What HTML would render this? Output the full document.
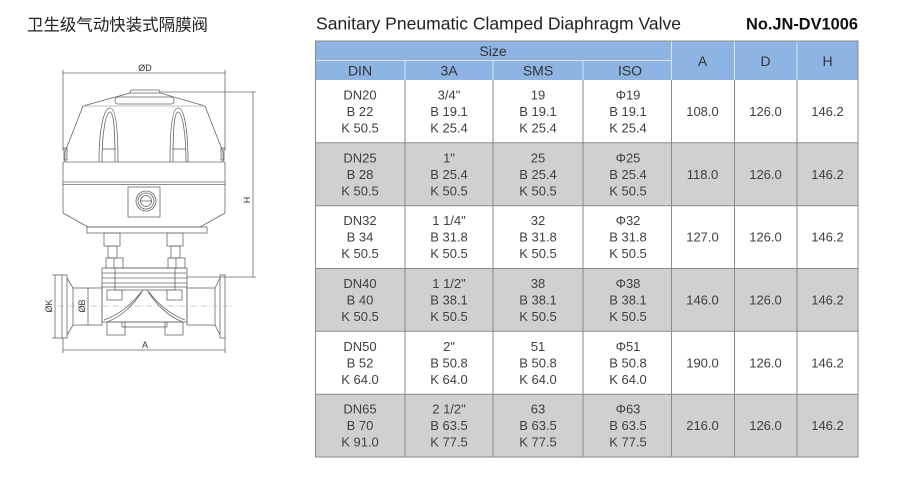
<!DOCTYPE html>
<html><head><meta charset="utf-8"><style>
html,body{margin:0;padding:0;background:#fff;}
svg{display:block;}
text{font-family:"Liberation Sans","Noto Sans CJK SC",sans-serif;}
</style></head><body>
<svg width="900" height="497" viewBox="0 0 900 497" xmlns="http://www.w3.org/2000/svg">
<rect width="900" height="497" fill="#fff"/>
<!-- Titles -->
<text x="27" y="30.5" font-size="16.5" fill="#222" textLength="181" lengthAdjust="spacingAndGlyphs">卫生级气动快装式隔膜阀</text>
<text x="316" y="29.3" font-size="17.5" fill="#222" textLength="365" lengthAdjust="spacingAndGlyphs">Sanitary Pneumatic Clamped Diaphragm Valve</text>
<text x="746" y="29.3" font-size="16.5" font-weight="bold" fill="#111" textLength="112" lengthAdjust="spacingAndGlyphs">No.JN-DV1006</text>

<!-- Drawing -->
<g fill="none" stroke="#666" stroke-width="0.8">
  <!-- OD dimension -->
  <line x1="63" y1="73" x2="225" y2="73"/>
  <line x1="63" y1="70" x2="63" y2="150"/>
  <line x1="225" y1="70" x2="225" y2="150"/>
  <!-- H dimension -->
  <line x1="253" y1="92" x2="253" y2="277"/>
  <line x1="160" y1="92" x2="256" y2="92"/>
  <line x1="187" y1="277" x2="256" y2="277"/>
  <!-- Dome -->
  <path d="M83,106 L130,93 L160,93 L205,106" fill="#fff"/>
  <path d="M130,93 L131,90 L159,90 L160,93"/>
  <rect x="115" y="97" width="59" height="7" rx="3"/>
  <path d="M83,106 L65,152 L65,162 M205,106 L223,152 L223,162"/>
  <path d="M83,106 L205,106" stroke="#aaa"/>
  <rect x="64" y="148" width="3" height="12"/>
  <rect x="221" y="148" width="3" height="12"/>
  <!-- windows -->
  <path d="M99,162 C99,128 104,108 110,108 C116,108 118,130 118,162"/>
  <path d="M102,162 C102,132 106,112 110,112 C114,112 115,132 115,162"/>
  <line x1="102" y1="149" x2="116" y2="149"/>
  <path d="M170,162 C170,130 172,108 178,108 C184,108 188,128 188,162"/>
  <path d="M173,162 C173,132 174,112 178,112 C182,112 186,132 186,162"/>
  <line x1="172" y1="149" x2="186" y2="149"/>
  <!-- band -->
  <line x1="63" y1="162" x2="225" y2="162"/>
  <line x1="63" y1="162" x2="63" y2="213"/>
  <line x1="225" y1="162" x2="225" y2="213"/>
  <line x1="63" y1="182" x2="225" y2="182"/>
  <line x1="63" y1="184.5" x2="225" y2="184.5"/>
  <path d="M63,213 L88,227 L200,227 L225,213"/>
  <!-- port -->
  <rect x="128" y="187" width="32" height="30"/>
  <circle cx="146" cy="201" r="10"/>
  <circle cx="146" cy="201" r="8"/>
  <circle cx="146" cy="201" r="5.5"/>
  <line x1="140" y1="201" x2="152" y2="201"/>
  <!-- bottom plate -->
  <rect x="87" y="227" width="120" height="6"/>
  <!-- posts -->
  <rect x="104" y="233" width="16" height="13"/>
  <rect x="108" y="246" width="9" height="12"/>
  <rect x="106" y="258" width="17" height="10"/>
  <line x1="114" y1="258" x2="114" y2="268"/>
  <rect x="167" y="233" width="16" height="13"/>
  <rect x="171" y="246" width="9" height="12"/>
  <rect x="168" y="258" width="17" height="10"/>
  <line x1="176" y1="258" x2="176" y2="268"/>
  <!-- body flange -->
  <rect x="102" y="268" width="85" height="19"/>
  <line x1="102" y1="273" x2="187" y2="273"/>
  <line x1="102" y1="278" x2="187" y2="278"/>
  <line x1="102" y1="283" x2="187" y2="283"/>
  <rect x="115" y="268" width="60" height="22"/>
  <!-- body -->
  <path d="M102,287 L102,322 L187,322 L187,287"/>
  <rect x="107" y="290" width="15" height="10"/>
  <rect x="167" y="290" width="15" height="10"/>
  <path d="M143,290 Q128,314 107,322"/>
  <path d="M141,292 Q126,312 104,320"/>
  <path d="M147,290 Q162,314 183,322"/>
  <path d="M149,292 Q164,312 185,320"/>
  <rect x="122" y="322" width="45" height="5"/>
  <rect x="107" y="322" width="18" height="13"/>
  <rect x="165" y="322" width="18" height="13"/>
  <!-- pipes -->
  <rect x="73" y="288" width="29" height="37"/>
  <path d="M73,288 L67,278 M73,325 L67,335"/>
  <rect x="62" y="275" width="5" height="63"/>
  <rect x="187" y="288" width="28" height="37"/>
  <path d="M215,288 L220,278 M215,325 L220,335"/>
  <rect x="220" y="275" width="5" height="63"/>
  <!-- dims -->
  <line x1="55" y1="275" x2="55" y2="338"/>
  <line x1="52" y1="275" x2="62" y2="275"/>
  <line x1="52" y1="338" x2="62" y2="338"/>
  <line x1="88" y1="288" x2="88" y2="325"/>
  <line x1="63" y1="338" x2="63" y2="353"/>
  <line x1="225" y1="338" x2="225" y2="353"/>
  <line x1="63" y1="350" x2="225" y2="350"/>
</g>
<line x1="58" y1="306" x2="232" y2="306" stroke="#999" stroke-width="0.6" stroke-dasharray="6,2,1,2"/>
<g font-size="9" fill="#333">
  <text x="145" y="71" text-anchor="middle">ØD</text>
  <text x="145" y="348" text-anchor="middle">A</text>
  <text transform="translate(250,200) rotate(-90)" text-anchor="middle">H</text>
  <text transform="translate(52,306) rotate(-90)" text-anchor="middle">ØK</text>
  <text transform="translate(85,306) rotate(-90)" text-anchor="middle">ØB</text>
</g>

<!-- Table -->
<rect x="315" y="41" width="543" height="39" fill="#8db4e2"/>
<rect x="315" y="142.8" width="543" height="62.9" fill="#d0d0d0"/>
<rect x="315" y="268.5" width="543" height="62.8" fill="#d0d0d0"/>
<rect x="315" y="394.2" width="543" height="62.8" fill="#d0d0d0"/>
<g stroke="#d8e6f6" stroke-width="1">
  <line x1="315" y1="60.5" x2="671" y2="60.5"/>
  <line x1="405" y1="61" x2="405" y2="79.5"/>
  <line x1="493" y1="61" x2="493" y2="79.5"/>
  <line x1="583" y1="61" x2="583" y2="79.5"/>
  <line x1="671.5" y1="41" x2="671.5" y2="79.5"/>
  <line x1="734.5" y1="41" x2="734.5" y2="79.5"/>
  <line x1="797" y1="41" x2="797" y2="79.5"/>
</g>
<g stroke="#8a8a8a" stroke-width="1">
  <line x1="405" y1="80" x2="405" y2="457"/>
  <line x1="493" y1="80" x2="493" y2="457"/>
  <line x1="583" y1="80" x2="583" y2="457"/>
  <line x1="671.5" y1="80" x2="671.5" y2="457"/>
  <line x1="734.5" y1="80" x2="734.5" y2="457"/>
  <line x1="797" y1="80" x2="797" y2="457"/>
  <line x1="315" y1="142.8" x2="858" y2="142.8"/>
  <line x1="315" y1="205.7" x2="858" y2="205.7"/>
  <line x1="315" y1="268.5" x2="858" y2="268.5"/>
  <line x1="315" y1="331.3" x2="858" y2="331.3"/>
  <line x1="315" y1="394.2" x2="858" y2="394.2"/>
  <rect x="315.5" y="41" width="542.5" height="416" fill="none"/>
</g>
<g font-size="14" fill="#333" text-anchor="middle">
  <text x="493" y="56">Size</text>
  <text x="360" y="75.5">DIN</text>
  <text x="449" y="75.5">3A</text>
  <text x="538" y="75.5">SMS</text>
  <text x="630" y="75.5">ISO</text>
  <text x="702.5" y="66">A</text>
  <text x="765.5" y="66">D</text>
  <text x="827.5" y="66">H</text>
</g>
<g font-size="13" fill="#404040" text-anchor="middle">
  <!-- row1 mid 111.4 -->
  <text x="360" y="99.5">DN20</text><text x="360" y="116">B 22</text><text x="360" y="132.5">K 50.5</text>
  <text x="449" y="99.5">3/4"</text><text x="449" y="116">B 19.1</text><text x="449" y="132.5">K 25.4</text>
  <text x="538" y="99.5">19</text><text x="538" y="116">B 19.1</text><text x="538" y="132.5">K 25.4</text>
  <text x="628" y="99.5">Φ19</text><text x="628" y="116">B 19.1</text><text x="628" y="132.5">K 25.4</text>
  <text x="702.5" y="116">108.0</text><text x="765.5" y="116">126.0</text><text x="827.5" y="116">146.2</text>
  <!-- row2 mid 174.2 -->
  <text x="360" y="162.3">DN25</text><text x="360" y="178.8">B 28</text><text x="360" y="195.3">K 50.5</text>
  <text x="449" y="162.3">1"</text><text x="449" y="178.8">B 25.4</text><text x="449" y="195.3">K 50.5</text>
  <text x="538" y="162.3">25</text><text x="538" y="178.8">B 25.4</text><text x="538" y="195.3">K 50.5</text>
  <text x="628" y="162.3">Φ25</text><text x="628" y="178.8">B 25.4</text><text x="628" y="195.3">K 50.5</text>
  <text x="702.5" y="178.8">118.0</text><text x="765.5" y="178.8">126.0</text><text x="827.5" y="178.8">146.2</text>
  <!-- row3 mid 237.1 -->
  <text x="360" y="225.2">DN32</text><text x="360" y="241.7">B 34</text><text x="360" y="258.2">K 50.5</text>
  <text x="449" y="225.2">1 1/4"</text><text x="449" y="241.7">B 31.8</text><text x="449" y="258.2">K 50.5</text>
  <text x="538" y="225.2">32</text><text x="538" y="241.7">B 31.8</text><text x="538" y="258.2">K 50.5</text>
  <text x="628" y="225.2">Φ32</text><text x="628" y="241.7">B 31.8</text><text x="628" y="258.2">K 50.5</text>
  <text x="702.5" y="241.7">127.0</text><text x="765.5" y="241.7">126.0</text><text x="827.5" y="241.7">146.2</text>
  <!-- row4 mid 299.9 -->
  <text x="360" y="288">DN40</text><text x="360" y="304.5">B 40</text><text x="360" y="321">K 50.5</text>
  <text x="449" y="288">1 1/2"</text><text x="449" y="304.5">B 38.1</text><text x="449" y="321">K 50.5</text>
  <text x="538" y="288">38</text><text x="538" y="304.5">B 38.1</text><text x="538" y="321">K 50.5</text>
  <text x="628" y="288">Φ38</text><text x="628" y="304.5">B 38.1</text><text x="628" y="321">K 50.5</text>
  <text x="702.5" y="304.5">146.0</text><text x="765.5" y="304.5">126.0</text><text x="827.5" y="304.5">146.2</text>
  <!-- row5 mid 362.8 -->
  <text x="360" y="350.9">DN50</text><text x="360" y="367.4">B 52</text><text x="360" y="383.9">K 64.0</text>
  <text x="449" y="350.9">2"</text><text x="449" y="367.4">B 50.8</text><text x="449" y="383.9">K 64.0</text>
  <text x="538" y="350.9">51</text><text x="538" y="367.4">B 50.8</text><text x="538" y="383.9">K 64.0</text>
  <text x="628" y="350.9">Φ51</text><text x="628" y="367.4">B 50.8</text><text x="628" y="383.9">K 64.0</text>
  <text x="702.5" y="367.4">190.0</text><text x="765.5" y="367.4">126.0</text><text x="827.5" y="367.4">146.2</text>
  <!-- row6 mid 425.6 -->
  <text x="360" y="413.7">DN65</text><text x="360" y="430.2">B 70</text><text x="360" y="446.7">K 91.0</text>
  <text x="449" y="413.7">2 1/2"</text><text x="449" y="430.2">B 63.5</text><text x="449" y="446.7">K 77.5</text>
  <text x="538" y="413.7">63</text><text x="538" y="430.2">B 63.5</text><text x="538" y="446.7">K 77.5</text>
  <text x="628" y="413.7">Φ63</text><text x="628" y="430.2">B 63.5</text><text x="628" y="446.7">K 77.5</text>
  <text x="702.5" y="430.2">216.0</text><text x="765.5" y="430.2">126.0</text><text x="827.5" y="430.2">146.2</text>
</g>
</svg>
</body></html>
